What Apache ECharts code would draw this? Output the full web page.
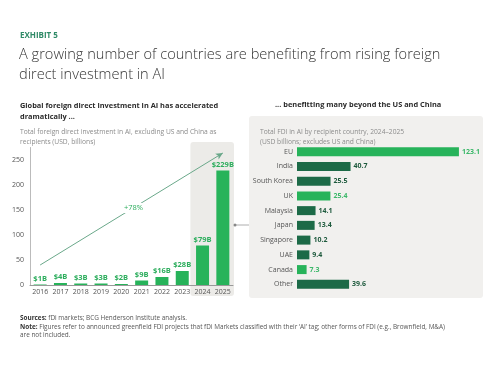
<!DOCTYPE html>
<html><head><meta charset="utf-8">
<script src="https://cdn.jsdelivr.net/npm/echarts@6/dist/echarts.min.js"></script>
<style>html,body{margin:0;padding:0;background:#fff}#c{width:500px;height:372px}</style>
</head><body><div id="c"></div>
<script>
var years = ['2016','2017','2018','2019','2020','2021','2022','2023','2024','2025'];
var fdiValues = [1, 4, 3, 3, 2, 9, 16, 28, 79, 229];
var fdiLabels = ['$1B','$4B','$3B','$3B','$2B','$9B','$16B','$28B','$79B','$229B'];
var yTicks = [0, 50, 100, 150, 200, 250];
var countries = ['EU','India','South Korea','UK','Malaysia','Japan','Singapore','UAE','Canada','Other'];
var countryValues = [123.1, 40.7, 25.5, 25.4, 14.1, 13.4, 10.2, 9.4, 7.3, 39.6];
var highlighted = ['EU','UK','Canada'];
var growthLabel = '+78%';
var arrowFrom = ['2016', 40];
var arrowTo = ['2025', 264];

var FONT = '"Open Sans", "Noto Sans", sans-serif';
var GREEN = '#27b35a', DARK = '#1c6a47';

var chart = echarts.init(document.getElementById('c'), null, {renderer:'canvas'});
var option = {
  animation: false,
  textStyle: {fontFamily: FONT, fontWeight: 'normal'},
  title: [
    {text: 'EXHIBIT 5', left: 15, top: 27, textStyle: {fontSize: 8, fontWeight: 'bold', color: '#2f8a67', fontFamily: FONT}},
    {text: 'A growing number of countries are benefiting from rising foreign\ndirect investment in AI', left: 14, top: 40,
     textStyle: {fontSize: 14.6, fontWeight: 300, color: '#333', lineHeight: 20, fontFamily: FONT}},
    {text: 'Global foreign direct investment in AI has accelerated\ndramatically ...', left: 15, top: 95,
     textStyle: {fontSize: 7.4, fontWeight: 'bold', color: '#2b2b2b', lineHeight: 11, fontFamily: FONT}},
    {text: 'Total foreign direct investment in AI, excluding US and China as\nrecipients (USD, billions)', left: 15, top: 122,
     textStyle: {fontSize: 6.7, fontWeight: 'normal', color: '#8c8c8c', lineHeight: 10, fontFamily: FONT}},
    {text: '... benefitting many beyond the US and China', left: 270, top: 96,
     textStyle: {fontSize: 7.4, fontWeight: 'bold', color: '#2b2b2b', fontFamily: FONT}},
    {text: 'Total FDI in AI by recipient country, 2024\u20132025\n(USD billions; excludes US and China)', left: 255, top: 122,
     textStyle: {fontSize: 6.7, fontWeight: 'normal', color: '#8c8c8c', lineHeight: 10, fontFamily: FONT}},
    {text: '{b|Sources:} fDi markets; BCG Henderson Institute analysis.\n{b|Note:} Figures refer to announced greenfield FDI projects that fDi Markets classified with their \u2018AI\u2019 tag; other forms of FDI (e.g., Brownfield, M&A)\nare not included.',
     left: 15, top: 309,
     textStyle: {fontSize: 6.4, fontWeight: 'normal', color: '#555', lineHeight: 8.5, fontFamily: FONT,
       rich: {b: {fontWeight: 'bold', fontSize: 6.4, color: '#333', fontFamily: FONT}}}}
  ],
  grid: [
    {left: 30, top: 147.5, width: 203, height: 137.5},
    {left: 297, top: 144.3, width: 171, height: 147.4}
  ],
  xAxis: [
    {type: 'category', gridIndex: 0, data: years,
     axisLine: {lineStyle: {color: '#999', width: 1}}, axisTick: {show: false},
     axisLabel: {interval: 0, fontSize: 7, color: '#555', margin: 3, fontFamily: FONT}},
    {type: 'value', gridIndex: 1, min: 0, max: 130, show: false}
  ],
  yAxis: [
    {type: 'value', gridIndex: 0, min: 0, max: 275, interval: 50,
     axisLine: {show: true, lineStyle: {color: '#bbb'}}, axisTick: {show: false}, splitLine: {show: false},
     axisLabel: {fontSize: 7, color: '#555', margin: 6, fontFamily: FONT, showMaxLabel: false,
       formatter: function(v){ return yTicks.indexOf(v) >= 0 ? String(v) : ''; }}},
    {type: 'category', gridIndex: 1, data: countries, inverse: true,
     axisLine: {show: false}, axisTick: {show: false},
     axisLabel: {fontSize: 7, color: '#555', margin: 4, fontFamily: FONT}}
  ],
  series: [
    {type: 'bar', xAxisIndex: 0, yAxisIndex: 0, data: fdiValues, barWidth: 13, z: 3,
     itemStyle: {color: GREEN},
     label: {show: true, position: 'top', distance: 2, fontSize: 7.5, fontWeight: 'bold', color: '#2eae5e', fontFamily: FONT,
       formatter: function(p){ return fdiLabels[p.dataIndex]; }},
     markLine: {silent: true, symbol: ['none', 'arrow'], symbolSize: [5, 7], z: 2,
       lineStyle: {color: '#6aa88a', width: 1, type: 'solid'},
       label: {show: false},
       data: [[{coord: arrowFrom}, {coord: arrowTo}]]}},
    {type: 'bar', xAxisIndex: 1, yAxisIndex: 1, barWidth: 9,
     data: countryValues.map(function(v, i){
       var hl = highlighted.indexOf(countries[i]) >= 0;
       return {value: v, itemStyle: {color: hl ? GREEN : DARK},
         label: {color: hl ? '#3cb86a' : '#1e5a3d'}};
     }),
     label: {show: true, position: 'right', distance: 3, fontSize: 7, fontWeight: 'bold', fontFamily: FONT,
       formatter: function(p){ return p.value.toFixed(1); }}}
  ]
};
chart.setOption(option);

// Layout decorations derived from the axes
var bw = chart.convertToPixel({xAxisIndex: 0}, '2017') - chart.convertToPixel({xAxisIndex: 0}, '2016');
var x24 = chart.convertToPixel({xAxisIndex: 0}, '2024') - bw / 2 - 2;
var x25 = chart.convertToPixel({xAxisIndex: 0}, '2025') + bw / 2 + 1;
var dotY = chart.convertToPixel({yAxisIndex: 0}, 120);
var p1 = chart.convertToPixel({xAxisIndex: 0, yAxisIndex: 0}, arrowFrom);
var p2 = chart.convertToPixel({xAxisIndex: 0, yAxisIndex: 0}, arrowTo);
chart.setOption({
  graphic: [
    {type: 'rect', z: -10, shape: {x: x24, y: 142, width: x25 - x24, height: 154, r: 3}, style: {fill: '#ecebe8'}},
    {type: 'rect', z: -10, shape: {x: 249, y: 116, width: 234, height: 182, r: 3}, style: {fill: '#f1f0ee'}},
    {type: 'line', z: 5, shape: {x1: x25 + 1, y1: dotY, x2: 249, y2: dotY}, style: {stroke: '#9a9a9a', lineWidth: 0.8}},
    {type: 'circle', z: 5, shape: {cx: x25 + 1, cy: dotY, r: 1.5}, style: {fill: '#888'}},
    {type: 'text', z: 10, x: (p1[0] + p2[0]) / 2 + 2, y: (p1[1] + p2[1]) / 2 - 1,
     style: {text: growthLabel, fontSize: 7.5, fill: '#2eae5e', fontFamily: FONT, align: 'center', verticalAlign: 'middle',
       backgroundColor: '#fff', padding: [1, 2]}}
  ]
});
</script></body></html>
